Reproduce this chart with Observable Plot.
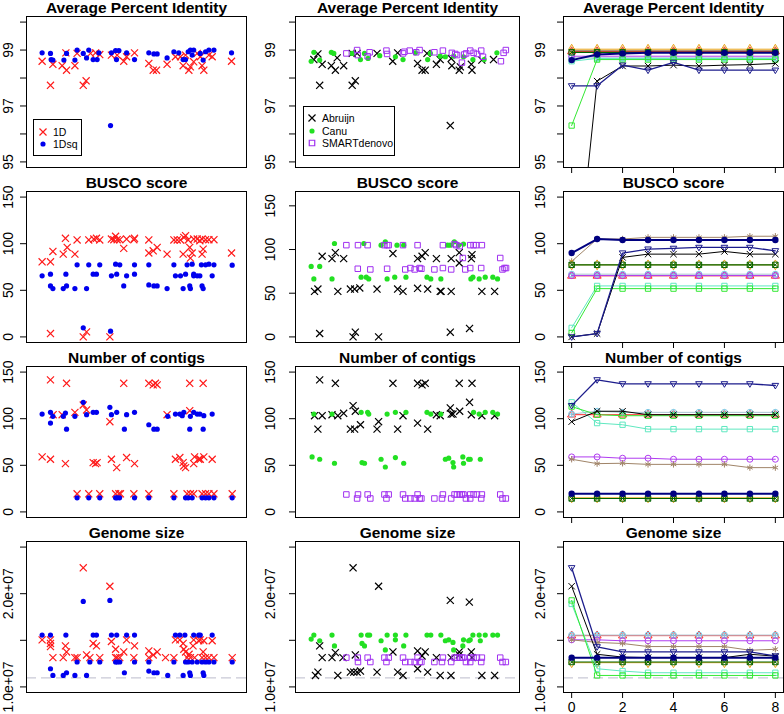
<!DOCTYPE html>
<html><head><meta charset="utf-8">
<script src="https://cdn.jsdelivr.net/npm/d3@7"></script>
<script src="https://cdn.jsdelivr.net/npm/@observablehq/plot@0.6"></script>
<style>
body{margin:0;background:#fff;}
#chart{position:relative;width:784px;height:714px;overflow:hidden;background:#fff;font-family:"Liberation Sans",Arial,sans-serif;}
</style></head><body><div id="chart"></div>
<script>
// ---------- Column 1: 1D vs 1Dsq (x = sample position 0..100) ----------
const apr_1D = [[7.1,98.6],[10.9,97.74],[12,98.49],[16.2,98.44],[18.2,98.28],[17.9,98.9],[22,98.44],[23,98.88],[25.8,97.74],[27.1,97.9],[29.1,98.88],[31.4,98.9],[33.3,98.84],[38.6,98.82],[41.2,98.82],[44.2,98.6],[45.5,98.76],[49.1,98.9],[55.6,98.52],[57.6,98.28],[59.1,98.28],[63.9,98.49],[67.7,98.76],[70,98.76],[72.3,98.82],[71.2,98.44],[73.8,98.28],[74.5,98.4],[76,98.58],[77.6,98.88],[79,98.76],[79.8,98.44],[80.6,98.28],[82.9,98.82],[84.4,98.76],[93.2,98.6]];
const apr_1Dsq = [[7.1,98.9],[10.9,98.88],[11.2,98.66],[12,98.64],[17,98.64],[18.2,98.88],[22,98.64],[23,99],[25.8,98.88],[27.3,98.72],[28.3,99],[30.3,98.66],[32.1,98.66],[32.9,98.9],[38.2,96.3],[38.6,98.9],[40.5,98.98],[40.9,98.66],[42,98.98],[45.5,98.9],[49.1,98.66],[55.6,98.9],[57.9,98.86],[59.4,98.86],[63.9,98.72],[67,98.94],[69.2,98.9],[71.2,98.66],[72.3,98.66],[73.5,98.94],[74.5,99],[75.3,98.82],[76,99],[79,98.88],[80.3,98.64],[81.4,98.94],[82.9,99],[85.2,99],[93.2,98.9]];
const busco_1D = [[7.1,80.6],[10.9,80.6],[10.9,3.6],[12,91.7],[16.7,88.8],[17.7,105.8],[18.5,96],[22,88.8],[23,104],[25.8,0],[27.3,5.4],[28.3,104],[30.6,105],[31.8,105.8],[33.3,104],[38.6,105],[37.9,0],[40.5,108],[39.7,104.3],[41.2,104.3],[42.4,104.3],[44.2,95],[45.5,105],[48.8,104.3],[49.1,105.8],[55.6,104],[55.6,90],[57.6,92.4],[59.4,96],[63.9,88.8],[67,104],[68.5,104],[70,104],[71.2,88.8],[71.5,106.8],[72.3,108.6],[73.5,104],[74.2,96],[74.5,84.5],[75.3,90],[76,105],[77.6,105],[78.8,103.2],[79.8,88.8],[80.3,94.2],[79.8,105],[81.4,104.3],[82.9,104.3],[85.2,104.3],[93.2,90]];
const busco_1Dsq = [[7.1,65.5],[10.9,67.3],[10.9,54.7],[12,51.8],[16.7,51.8],[17.9,67.3],[18.2,54.7],[22,51.8],[23,77.3],[25.8,9.7],[27.3,51.8],[28.3,77.3],[30.3,67.3],[31.8,67.3],[33.3,77.3],[38.2,6.1],[38.6,65.5],[40.5,78],[41,67.3],[42.4,77.3],[44.2,54.7],[45.5,65.5],[49.1,77.3],[49.1,67.3],[55.6,77.3],[55.6,55.8],[57.9,54.7],[59.4,54.7],[63.9,51.8],[67,77.3],[67.7,65.5],[70,65.5],[71.2,51.8],[72.3,67.3],[73,77.3],[74.2,54.7],[74.5,51.8],[75.3,78],[76,67.3],[76,65.5],[77.6,65.5],[78.8,65.5],[79.5,77.3],[79.8,54.7],[80.3,51.8],[81.4,77.3],[82.9,78],[84.4,65.5],[85.2,77.3],[93.5,77]];
const contigs_1D = [[7.1,59],[10.9,141.7],[10.9,56.5],[12.1,104.3],[16.2,104.3],[17.7,51.8],[18.2,138],[22,106.8],[23,19.4],[25.8,114.7],[27.3,109.4],[28.3,19.4],[30.3,52.9],[31.4,51.8],[32.1,52.9],[33.3,19.4],[37.9,96.8],[38.6,56.5],[40.5,19.4],[41,47.5],[42,19.4],[42.7,19.4],[44.2,138],[45.5,58.3],[48.8,19.4],[49.1,51.8],[55.6,138],[55.6,19.4],[57.6,136.3],[58.6,138],[59.4,136.3],[63.9,104.3],[67,19.4],[67.7,56.5],[69.7,58.3],[71.2,52.9],[71.5,49.3],[72.3,47.5],[73,19.4],[74.2,138],[74.2,108.6],[74.5,19.4],[76,51.8],[76,19.4],[76.4,59],[78.3,56.5],[79,56.5],[79.8,19.4],[80.3,138],[80.6,59],[81.4,19.4],[82.9,19.4],[84.4,56.5],[85.2,19.4],[93.5,19.4]];
const contigs_1Dsq = [[7.1,105],[10.9,106.8],[10.9,95.3],[12,102.5],[16.7,102.5],[17.7,106],[18.2,88.8],[22,102.5],[23,15.1],[25.8,117.6],[27.3,104.3],[28.3,15.1],[30.3,106.8],[31.8,106.8],[33.3,15.1],[37.9,112.2],[38.6,104.3],[40.5,15.1],[41.2,15.1],[42.3,15.1],[41,106.8],[44.5,88.8],[45.5,104.3],[49.1,15.1],[49.1,106.8],[55.6,15.1],[55.6,93.5],[57.9,88.8],[59.4,88.8],[64.2,102.5],[67,15.1],[67.7,105],[69.7,105],[70.8,103.2],[71.5,106.8],[72.3,15.1],[73.5,15.1],[74.2,88.8],[74.5,102.5],[75.3,15.1],[76,106.8],[77.6,105],[78.8,105],[79.8,15.1],[80.3,88.8],[80.6,103.2],[81.4,15.1],[82.9,15.1],[84.4,105],[85.2,15.1],[93.5,15.1]];
// genome size in Mb
const genome_1D = [[7.1,15.05],[10.9,15.05],[10.9,14.66],[10.9,14.33],[12,13.14],[16.7,13.14],[17.7,14.4],[18.2,13.75],[22,13.14],[23,13.14],[25.8,22.78],[27.3,13.43],[28.8,13.14],[30.3,14.66],[31.8,14.4],[33.3,13.14],[37.9,20.8],[38.6,14.87],[40.5,14.04],[40.5,13.14],[41.2,13.14],[42.4,13.14],[44.2,13.75],[45.5,15.05],[48.8,13.14],[49.1,14.4],[55.6,13.86],[55.6,13.14],[57.6,13.43],[59.4,13.75],[63.2,13.14],[67,13.14],[67.7,15.05],[69.7,15.05],[71.2,14.66],[71.5,14.04],[72.3,13.75],[73,13.14],[73.9,13.5],[74.5,13.14],[75.7,14.4],[76,15.05],[76.4,13.14],[78.3,14.95],[79,15.05],[79.8,13.14],[80.3,13.75],[80.6,14.95],[81.4,13.14],[82.9,13.14],[84.4,14.95],[85.2,13.14],[93.5,13.14]];
const genome_1Dsq = [[7.1,15.56],[10.9,15.56],[10.9,11.95],[12,11.23],[16.7,11.23],[17.9,15.56],[18.2,11.52],[22,11.23],[23,12.67],[25.8,19.17],[27.3,11.23],[28.8,12.67],[30.3,15.56],[31.8,15.56],[33.3,12.67],[37.9,19.28],[38.6,15.56],[40.5,12.67],[41.2,12.67],[42.4,12.67],[41,15.56],[44.5,11.52],[45.5,15.56],[49.1,12.67],[49.1,15.56],[55.6,12.67],[55.6,11.7],[57.9,11.52],[59.4,11.52],[64.2,11.23],[67,12.67],[67.7,15.56],[69.7,15.56],[71.2,11.23],[72,15.56],[72.3,12.67],[73.5,12.67],[74.2,11.52],[74.5,11.23],[75.3,12.67],[76,15.56],[77.6,12.67],[78.3,15.56],[79,15.56],[79.8,12.67],[80.3,11.52],[80.6,11.23],[81.4,12.67],[82.9,12.67],[84.4,15.56],[85.2,12.67],[93.5,12.67]];

// ---------- Column 2: assemblers ----------
const apr_abruijn = [[8.2,98.66],[10,98.86],[10.8,97.74],[11.9,98.49],[16,98.44],[17.8,98.28],[18.6,98.72],[21.5,98.44],[25.3,97.74],[26.7,97.9],[25.3,98.88],[27.5,98.88],[36.4,98.88],[43.4,98.6],[45.6,98.9],[54.5,98.52],[56.5,98.28],[57.9,98.28],[58.7,98.88],[62.9,98.49],[64.6,98.66],[69.1,96.3],[69.5,98.7],[69.8,98.44],[73.1,98.28],[73.6,98.4],[78.5,98.49],[78.8,98.28],[83.2,98.64],[88.4,98.66]];
const apr_canu = [[7,98.6],[8.2,98.92],[10.8,98.64],[16,98.92],[17.1,98.88],[25.3,98.88],[29,98.66],[30.8,98.88],[32.4,98.7],[37.6,98.8],[44.6,98.76],[48,98.66],[53.5,98.9],[59,98.66],[60.2,98.88],[64.6,98.78],[66.9,98.76],[70.6,98.78],[75,98.76],[79.2,98.66],[84.2,98.66],[89.9,98.9]];
const apr_smart = [[22.7,98.88],[27.5,99],[27.8,98.82],[32.2,98.78],[33.1,98.92],[40.6,98.98],[40.9,98.86],[48,98.88],[48.6,98.94],[51,98.98],[53.9,98.92],[55.4,99],[62,98.92],[65.8,98.98],[69.8,98.9],[71.3,98.86],[72.1,98.82],[74.3,98.55],[75.3,98.84],[76.2,98.88],[78,98.98],[79.5,98.9],[81,98.86],[82.9,98.98],[83.7,98.76],[91.7,98.6],[92.9,98.9],[93.9,99]];
const busco_abruijn = [[8.5,52.1],[10,54.8],[10.8,3.9],[11.9,92.3],[16.3,89.6],[17.8,96.5],[18.9,52.1],[21.5,89.6],[24.5,54.8],[25.7,0],[26.7,5.4],[26.4,54.8],[28.7,56],[36.4,54.8],[43.5,95.4],[45.6,54.8],[48,52.1],[37.1,0],[54.5,89.6],[54.5,55.6],[56.5,92.3],[57.9,96.5],[59,54.8],[62.9,89.6],[64.6,52.1],[65,52.1],[69.1,5.4],[69.5,89.6],[69.5,52.1],[73.1,96.5],[73.1,84.6],[77.7,9.7],[78.5,89.6],[78.8,94.2],[83.2,52.1],[88.9,52.1]];
const busco_canu = [[7,80.7],[8.2,66.4],[10.8,80.7],[16.3,66.4],[17.4,106.9],[29.3,68.3],[30.5,106.9],[31.6,68.3],[32.7,66.4],[38.2,105],[40.1,108.9],[40.9,66.4],[44.3,68.3],[45.3,105],[48.3,105],[49.3,68.3],[58.7,68.3],[60.4,66.4],[64.9,66.4],[67.9,105],[69.1,105],[70.9,108.9],[72.8,105],[75,106.2],[78.3,66.4],[79.2,68.3],[82,66.4],[84.7,68.3],[88.1,68.3],[90.2,66.4]];
const busco_smart = [[22.7,105],[27.9,105],[27.8,78],[32.2,105],[33.4,77.2],[39.7,105],[40.9,105],[41.6,105],[40.9,78],[48,105],[49,77.2],[51.3,78.8],[53.2,77.2],[54.5,105],[55.4,78.8],[56.2,78],[62,77.2],[65.8,105],[65.8,78.8],[69.5,77.2],[71,106.2],[71.8,105],[73.3,103.9],[74.7,90.3],[75.8,77.2],[78,78.8],[78,105],[79.5,105],[80.7,105],[83.2,105],[82.9,78.8],[91.4,90.3],[92.4,77.2],[93.3,78.8],[94,78.8]];
const contigs_abruijn = [[8.5,103.2],[10,88.8],[10.8,141.7],[11.9,103.2],[16.3,104.3],[17.8,138],[18.9,103.2],[21.5,105.8],[24.5,88.8],[25.7,114],[26.4,88.8],[26.7,108],[29,93.5],[36.4,88.8],[37.1,96.8],[43.5,138],[45.6,88.8],[48,103.2],[54.5,95.3],[54.5,138],[56.5,136.3],[57.9,138],[59,88.8],[62.9,104.3],[64.6,103.2],[69.1,111.5],[69.5,105],[70.3,105],[73.1,138],[73.3,108],[77.7,117.6],[78.5,104.3],[78.8,138],[83.2,103.2],[88.9,103.2]];
const contigs_canu = [[7.4,59],[8.2,105],[10.8,56.5],[16.3,105],[17.4,52.2],[29.3,106.8],[29.7,52.9],[30.8,52.2],[32.2,106.8],[32.7,105],[38.2,56.5],[40.1,48.2],[40.9,105],[44.6,106.8],[44.6,58.3],[48.3,52.2],[49.3,106.8],[58.7,106.8],[60.4,105],[64.9,105],[66.9,56.5],[68.4,57.6],[70.3,52.9],[70.6,48.2],[74.7,59],[75,52.2],[77.3,56.5],[78,56.5],[79.5,106.8],[82,105],[82.5,56.5],[84.7,106.8],[88.1,106.8],[90.2,105]];
const contigs_smart = [[22.7,18.7],[27.5,14.4],[27.9,18.7],[32.2,18.7],[33.4,14.4],[39.7,18.7],[40.6,14.4],[41.6,18.7],[48,18.7],[49,14.4],[51.3,14.4],[53.2,14.4],[54.5,18.7],[55.4,14.4],[56.2,14.4],[62,14.4],[65.8,18.7],[65.4,14.4],[69.5,14.4],[71,18.7],[72.1,18.7],[73.3,18.7],[74.3,18.7],[75,18.7],[76.1,14.4],[78,18.7],[78,14.4],[79.5,18.7],[81,18.7],[82.9,14.4],[83.2,18.7],[91.4,18.7],[92.4,14.4],[93.9,14.4]];
const genome_abruijn = [[8.9,11.23],[10,11.59],[10.8,14.4],[11.9,13.14],[16.3,13.14],[17.8,13.68],[18.9,11.23],[21.2,13.14],[24.5,11.59],[25.7,22.78],[26,11.59],[26.7,13.43],[27.5,11.59],[29,11.7],[36.4,11.59],[37.1,20.8],[43.5,13.75],[45.6,11.59],[48,11.23],[54.5,11.95],[54.5,13.86],[56.5,13.32],[57.9,13.75],[59,11.59],[62.9,13.14],[64.6,11.23],[69.1,19.28],[69.4,11.23],[69.5,13.14],[73.1,13.75],[73.1,13.43],[77.6,19.1],[78.5,13.75],[78.8,13.14],[83.2,11.23],[88.9,11.23]];
const genome_canu = [[7,15.13],[8.2,15.56],[10.8,14.95],[16.3,15.56],[17.4,14.4],[29.3,15.56],[29.7,14.66],[30.8,14.4],[32.2,15.56],[33.1,15.56],[38.2,14.95],[40.1,13.97],[40.9,15.56],[44.6,15.56],[44.6,15.05],[48.3,14.4],[49.3,15.56],[58.7,15.56],[60.4,15.56],[64.9,15.56],[66.9,14.95],[68.4,15.05],[70.3,14.77],[70.6,13.97],[74.7,14.4],[75,15.05],[77.3,14.95],[78,15.05],[79.2,15.56],[82,15.56],[82.5,14.95],[84.7,15.56],[88.1,15.56],[90.2,15.56]];
const genome_smart = [[22.7,13.14],[27.8,13.14],[27.9,12.67],[32.2,13.14],[33.4,12.67],[39.7,13.14],[40.6,12.67],[41.6,13.14],[48,13.14],[49,12.67],[51.3,12.67],[53.2,12.67],[54.5,13.14],[55.4,12.67],[56.2,12.67],[62,12.67],[65.8,13.14],[65.4,12.67],[69.5,12.67],[71,13.14],[72.1,13.14],[73.3,13.14],[74.3,13.14],[75,13.14],[76.1,12.67],[78,13.14],[78,12.67],[79.5,13.14],[81,13.14],[82.9,12.67],[83.2,13.14],[91.4,13.14],[92.4,12.67],[93.9,12.67]];
const referenceGenomeMb = 10.97;

// ---------- Column 3: polishing rounds ----------
const iterations = [0,1,2,3,4,5,6,7,8];
const polishNames   = ["red","skyblue","purple","brown","orange","darkgreen","aqua","lime","black","navyTri","navy"];
const polishColors  = ["#ff2a2a","#7ec8e3","#b03cf0","#a08468","#e8a317","#006400","#5fe8c0","#33e833","#000000","#1c1c8c","#000080"];
const polishLineCol = ["#ff2a2a","#a9c4d2","#b03cf0","#a08468","#e8a317","#006400","#5fe8c0","#33e833","#000000","#1c1c8c","#000080"];
const polishWidths  = [1,1,1,1,1,1.2,1,1,1,1.3,2];
const polishAPR = [
  [98.95,98.95,98.95,98.95,98.95,98.95,98.95,98.95,98.95],
  [98.72,98.72,98.72,98.72,98.72,98.72,98.72,98.72,98.72],
  [98.78,98.78,98.78,98.78,98.78,98.78,98.78,98.78,98.78],
  [98.98,98.98,98.98,98.98,98.98,98.98,98.98,98.98,98.98],
  [99.03,99.03,99.03,99.03,99.03,99.03,99.03,99.03,99.03],
  [98.92,98.92,98.92,98.92,98.92,98.92,98.92,98.92,98.92],
  [98.6,98.7,98.7,98.7,98.7,98.7,98.7,98.7,98.7],
  [96.3,98.66,98.66,98.66,98.66,98.66,98.66,98.66,98.66],
  [89.1,97.89,98.43,98.43,98.46,98.43,98.46,98.48,98.52],
  [97.72,97.72,98.46,98.28,98.56,98.28,98.28,98.28,98.28],
  [98.64,98.84,98.88,98.9,98.9,98.9,98.9,98.9,98.9]
];
const polishBUSCO = [
  [65.5,65.5,65.5,65.5,65.5,65.5,65.5,65.5,65.5],
  [67.3,67.3,67.3,67.3,67.3,67.3,67.3,67.3,67.3],
  [65.8,65.8,65.8,65.8,65.8,65.8,65.8,65.8,65.8],
  [81,105,105,106.8,106.8,106.8,106.8,108,108],
  [77.3,77.3,77.3,77.3,77.3,77.3,77.3,77.3,77.3],
  [77.3,77.3,77.3,77.3,77.3,77.3,77.3,77.3,77.3],
  [9.7,54.7,54.7,54.7,54.7,54.7,54.7,54.7,54.7],
  [4.3,51.8,51.8,51.8,51.8,51.8,51.8,51.8,51.8],
  [0,3.6,85.3,88.8,88.8,88.8,91.7,88.8,88.8],
  [0,3.6,90,94.2,95,96,96,96,92.4],
  [90,105,104,104,104,104,104,104,104]
];
const polishContigs = [
  [104.3,104.3,104.3,104.3,104.3,104.3,104.3,104.3,104.3],
  [105,108,106.8,106.8,106.8,106.8,106.8,106.8,106.8],
  [59,59,57.6,57.6,56.5,56.5,56.5,56.5,56.5],
  [56.5,51.8,52.2,51,51,51,51,47.5,47.5],
  [15.1,15.1,15.1,15.1,15.1,15.1,15.1,15.1,15.1],
  [14.4,14.4,14.4,14.4,14.4,14.4,14.4,14.4,14.4],
  [117.6,95.3,93.5,88.8,88.8,88.8,88.8,88.8,88.8],
  [113,104.3,103.2,103.2,103.2,103.2,103.2,103.2,103.2],
  [96.8,108,108,104.3,104.3,104.3,104.3,104.3,104.3],
  [114,141.7,137.4,137.4,137.4,137.4,137.4,137.4,135.6],
  [19.4,19.4,19.4,19.4,19.4,19.4,19.4,19.4,19.4]
];
const polishGenome = [
  [15.5,15.5,15.5,15.5,15.5,15.5,15.5,15.5,15.5],
  [15.56,15.56,15.56,15.56,15.56,15.56,15.56,15.56,15.56],
  [15.05,15.05,14.95,14.95,14.95,14.95,14.95,14.95,14.95],
  [15.05,14.77,14.66,14.33,14.33,14.33,14.33,13.93,14.04],
  [12.6,12.6,12.6,12.6,12.6,12.6,12.6,12.6,12.6],
  [12.67,12.67,12.67,12.67,12.67,12.67,12.67,12.67,12.67],
  [18.9,11.95,11.7,11.52,11.52,11.52,11.52,11.52,11.52],
  [19.28,11.23,11.23,11.23,11.23,11.23,11.23,11.23,11.23],
  [20.8,13.5,13.2,13.14,13.14,13.14,13.14,13.5,13.3],
  [22.78,14.3,13.75,13.75,13.75,13.75,13.75,13.75,13.32],
  [13.14,13.14,13.14,13.14,13.14,13.14,13.14,13.14,13.14]
];

// ---------- Titles / ticks ----------
const titles = ["Average Percent Identity","BUSCO score","Number of contigs","Genome size"];
const aprTicks = [95,96,97,98,99,100], aprLabels = [95,97,99];
const countTicks = [0,50,100,150];
const genomeTicks = [10,15,20,25], genomeLabelVals = [10,20], genomeLabelText = ["1.0e+07","2.0e+07"];
const roundTicks = [0,2,4,6,8];
const legend1 = ["1D","1Dsq"];
const legend2 = ["Abruijn","Canu","SMARTdenovo"];

// ---------- layout ----------
const chart = document.getElementById("chart");
const FONT = "Liberation Sans, Arial, Helvetica, sans-serif";
const frameX = [[26,246],[295,519],[563,783]];
const frameY = [[16,167],[191,342],[366,517],[541,692]];
const labelDx = [-18,-25,-23];

const triDown = {draw(ctx,size){const r=Math.sqrt(size/Math.PI)*1.15;ctx.moveTo(0,r);ctx.lineTo(r*0.95,-r*0.62);ctx.lineTo(-r*0.95,-r*0.62);ctx.closePath();}};
const squareX = {draw(ctx,size){const s=Math.sqrt(size/Math.PI)*0.9;ctx.rect(-s,-s,2*s,2*s);ctx.moveTo(-s,-s);ctx.lineTo(s,s);ctx.moveTo(s,-s);ctx.lineTo(-s,s);}};
const circlePlus = {draw(ctx,size){const r=Math.sqrt(size/Math.PI);ctx.moveTo(r,0);ctx.arc(0,0,r,0,2*Math.PI);ctx.moveTo(-r,0);ctx.lineTo(r,0);ctx.moveTo(0,-r);ctx.lineTo(0,r);}};
const polishSymbols = ["triangle",circlePlus,"circle","asterisk","diamond",squareX,"square","square","times",triDown,"circle"];
const polishFill = ["none","none","none","none","none","none","none","none","none","none","#000080"];

function panel(col,row,o){
  const mL=45,mR=2,mT=20,mB=(row===3?26:9);
  const [x0,x1]=frameX[col],[y0,y1]=frameY[row];
  const width=x1-x0+mL+mR, height=y1-y0+mT+mB;
  const marks=[
    ...o.marks,
    Plot.frame({stroke:"black",strokeWidth:1}),
    Plot.axisY({ticks:o.yTicks,tickSize:6,tickFormat:()=>"",label:null,stroke:"black"}),
    Plot.text(o.yLabelVals,{y:d=>d,text:(d,i)=>o.yLabelText[i],frameAnchor:"left",dx:labelDx[col],rotate:-90,fontSize:14,textAnchor:"middle",lineAnchor:"middle",fill:"black"}),
    Plot.text([titles[row]],{frameAnchor:"top",dy:-3.5,lineAnchor:"bottom",fontSize:15.5,fontWeight:"bold",fill:"black"})
  ];
  if(col===2){
    marks.push(Plot.axisX({ticks:roundTicks,tickSize:6,tickFormat:()=>"",label:null,stroke:"black"}));
    if(row===3) marks.push(Plot.text(roundTicks,{x:d=>d,text:d=>String(d),frameAnchor:"bottom",dy:15,fontSize:14,lineAnchor:"middle",fill:"black"}));
  }
  const svg=Plot.plot({
    width,height,marginLeft:mL,marginRight:mR,marginTop:mT,marginBottom:mB,
    x:{domain:o.xDomain,axis:null},
    y:{domain:o.yDomain,axis:null},
    style:{background:"transparent",overflow:"visible",fontFamily:FONT},
    marks
  });
  svg.style.position="absolute";
  svg.style.left=(x0-mL)+"px";
  svg.style.top=(y0-mT)+"px";
  chart.appendChild(svg);
}

const aprDomain=[94.8,100.2], countDomain=[-6,156], buscoDomain2=[-6.4,166.4], genomeDomain=[9.4,25.6];
const idxDomain=[0,100], roundDomain=[-0.32,8.32];
const xy={x:d=>d[0],y:d=>d[1]};
const crossOpt=c=>({...xy,symbol:"times",stroke:c,r:3.3,strokeWidth:1.2});
const dotOpt=c=>({...xy,fill:c,r:2.6});
const sqOpt=c=>({...xy,symbol:"square",stroke:c,fill:"none",r:3.1,strokeWidth:1});
const yAxes=[
  {yDomain:aprDomain,yTicks:aprTicks,yLabelVals:aprLabels,yLabelText:aprLabels.map(String)},
  {yDomain:countDomain,yTicks:countTicks,yLabelVals:countTicks,yLabelText:countTicks.map(String)},
  {yDomain:countDomain,yTicks:countTicks,yLabelVals:countTicks,yLabelText:countTicks.map(String)},
  {yDomain:genomeDomain,yTicks:genomeTicks,yLabelVals:genomeLabelVals,yLabelText:genomeLabelText}
];
const refRule=()=>Plot.ruleY([referenceGenomeMb],{stroke:"#c9c9d6",strokeDasharray:"10,5",strokeWidth:1.3});

// column 1
const col1=[[apr_1D,apr_1Dsq],[busco_1D,busco_1Dsq],[contigs_1D,contigs_1Dsq],[genome_1D,genome_1Dsq]];
col1.forEach(([a,b],row)=>{
  const m=[Plot.dot(a,crossOpt("#ff1a1a")),Plot.dot(b,dotOpt("#0000ee"))];
  if(row===3) m.unshift(refRule());
  panel(0,row,{...yAxes[row],xDomain:idxDomain,marks:m});
});
// column 2
const col2=[[apr_abruijn,apr_canu,apr_smart],[busco_abruijn,busco_canu,busco_smart],[contigs_abruijn,contigs_canu,contigs_smart],[genome_abruijn,genome_canu,genome_smart]];
col2.forEach(([a,c,s],row)=>{
  const m=[Plot.dot(a,crossOpt("#000")),Plot.dot(c,dotOpt("#22e022")),Plot.dot(s,sqOpt("#a030f0"))];
  if(row===3) m.unshift(refRule());
  const ya={...yAxes[row]};
  if(row===1) ya.yDomain=buscoDomain2;
  panel(1,row,{...ya,xDomain:idxDomain,marks:m});
});
// column 3
[polishAPR,polishBUSCO,polishContigs,polishGenome].forEach((metric,row)=>{
  const m=[];
  if(row===3) m.push(refRule());
  polishNames.forEach((name,k)=>{
    const data=iterations.map((it,i)=>({it,v:metric[k][i]}));
    m.push(Plot.line(data,{x:"it",y:"v",stroke:polishLineCol[k],strokeWidth:polishWidths[k],clip:true}));
    const fill=polishFill[k];
    m.push(Plot.dot(data,{x:"it",y:"v",symbol:polishSymbols[k],stroke:fill==="none"?polishColors[k]:"none",fill:fill,r:fill==="none"?3:3.2,strokeWidth:1,clip:true}));
  });
  panel(2,row,{...yAxes[row],xDomain:roundDomain,marks:m});
});

// ---------- legends ----------
function legend(left,top,w,h,items,symX,textX,ys){
  const ns="http://www.w3.org/2000/svg";
  const svg=document.createElementNS(ns,"svg");
  svg.setAttribute("width",w);svg.setAttribute("height",h);
  svg.style.position="absolute";svg.style.left=left+"px";svg.style.top=top+"px";
  let html=`<rect x="0.5" y="0.5" width="${w-1}" height="${h-1}" fill="white" stroke="black"/>`;
  items.forEach((it,i)=>{
    const path=d3.symbol(it.sym,it.size)();
    html+=`<path transform="translate(${symX},${ys[i]})" d="${path}" fill="${it.fill}" stroke="${it.stroke}" stroke-width="1.2"/>`;
    html+=`<text x="${textX}" y="${ys[i]}" dy="0.35em" font-size="10.5" font-family="${FONT}">${it.label}</text>`;
  });
  svg.innerHTML=html;
  chart.appendChild(svg);
}
legend(33,119,49,37,[
  {label:legend1[0],sym:d3.symbolTimes,size:34,fill:"none",stroke:"#ff1a1a"},
  {label:legend1[1],sym:d3.symbolCircle,size:21,fill:"#0000ee",stroke:"none"}
],10,20,[13,25]);
legend(303,106,92,50,[
  {label:legend2[0],sym:d3.symbolTimes,size:34,fill:"none",stroke:"#000"},
  {label:legend2[1],sym:d3.symbolCircle,size:21,fill:"#22e022",stroke:"none"},
  {label:legend2[2],sym:d3.symbolSquare,size:30,fill:"none",stroke:"#a030f0"}
],9,19,[12,25,37]);
</script></body></html>
